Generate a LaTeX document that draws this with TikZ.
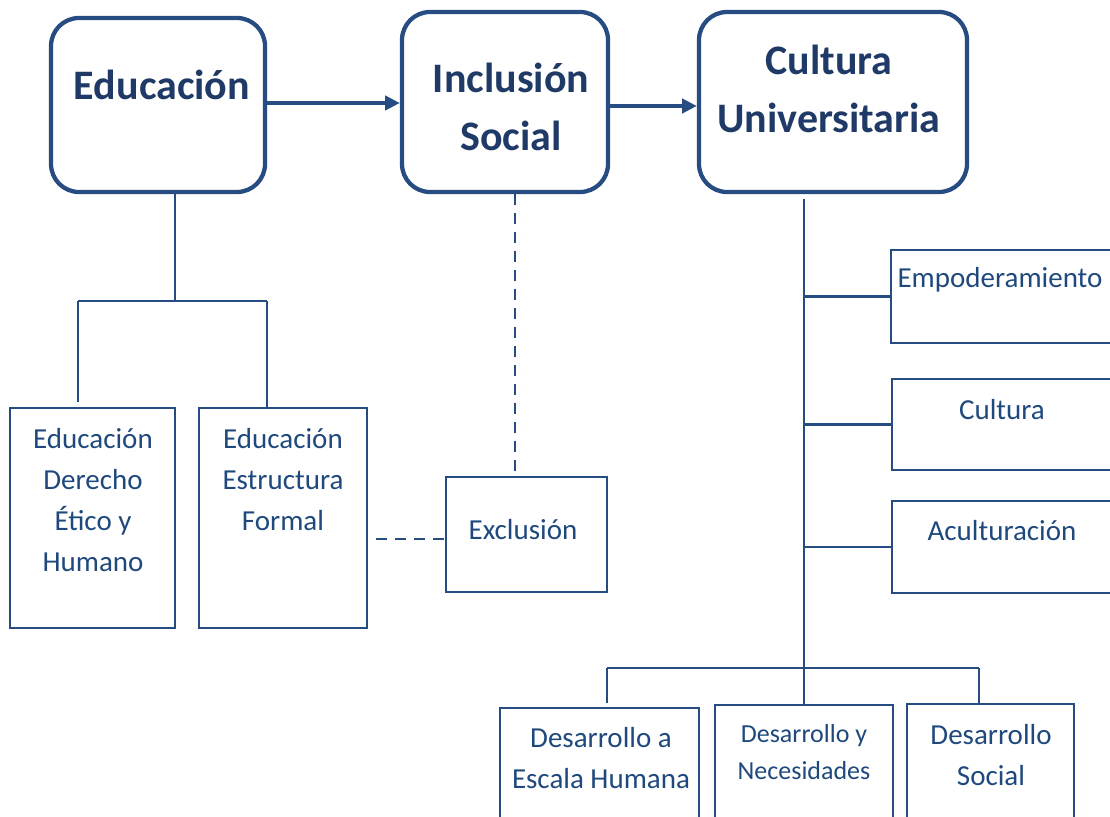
\documentclass[tikz,border=0pt]{standalone}
\usepackage{fontspec}
\setmainfont{Carlito}
\usetikzlibrary{arrows.meta}
\definecolor{navy}{RGB}{31,73,125}
\definecolor{navyd}{RGB}{31,58,102}
\definecolor{linec}{RGB}{38,76,130}
\begin{document}
\begin{tikzpicture}[x=0.75pt,y=-0.75pt,
 rbox/.style={draw=linec, line width=3.2pt, rounded corners=21pt, inner sep=0pt},
 sbox/.style={draw=linec, line width=2pt, inner sep=0pt},
 title/.style={text=navyd, font=\fontsize{31.5pt}{43.5pt}\selectfont\bfseries, align=center, inner sep=0pt},
 lbl/.style={text=navy, font=\fontsize{21.75pt}{30.75pt}\selectfont, align=center, inner sep=0pt},
 lbls/.style={text=navy, font=\fontsize{19.5pt}{27.75pt}\selectfont, align=center, inner sep=0pt},
 conn/.style={draw=linec, line width=2pt},
 dconn/.style={draw=linec, line width=2pt, dash pattern=on 8.25pt off 6pt},
 arr/.style={draw=linec, line width=3pt, -{Triangle[length=11pt,width=10.5pt]}}
]
\clip (0,0) rectangle (1110,817);
% main boxes
\node[rbox, minimum width=160.5pt, minimum height=130.5pt] (edu) at (158,105) {};
\node[title] (edut) at (162,85) {Educación};
\node[rbox, minimum width=154.5pt, minimum height=135pt] (incl) at (505,102) {};
\node[title] (inclt) at (511,107) {Inclusión\\Social};
\node[rbox, minimum width=201pt, minimum height=135pt] (cu) at (833,102) {};
\node[title] (cut) at (829,89) {Cultura\\Universitaria};
% arrows
\draw[arr] ([yshift=1.5pt]edu.east) -- ([yshift=1.5pt]edu.east -| incl.west);
\draw[arr] ([yshift=-3pt]incl.east) -- ([yshift=-3pt]incl.east -| cu.west);
% education subtree
\node[sbox, minimum width=123.75pt, minimum height=165pt] (e1) at (92.5,518) {};
\node[lbl] (e1t) at (93,500.5) {Educación\\Derecho\\Ético y\\Humano};
\node[sbox, minimum width=126pt, minimum height=165pt] (e2) at (283,518) {};
\node[lbl] (e2t) at (283,480) {Educación\\Estructura\\Formal};
\coordinate (ej) at (175,301);
\coordinate (ejl) at (78,301);
\coordinate (ejr) at (267,301);
\draw[conn] (edu.south -| ej) -- (ej);
\draw[conn] (ejl) -- (ejr);
\draw[conn] (ejl) -- ([yshift=3.75pt]e1.north -| ejl);
\draw[conn] (ejr) -- (e2.north -| ejr);
% exclusion
\node[sbox, minimum width=120.75pt, minimum height=86.25pt] (excl) at (526.5,534.5) {};
\node[lbl] (exclt) at (523,530) {Exclusión};
\coordinate (dx) at (515,300);
\draw[dconn] (incl.south -| dx) -- (excl.north -| dx);
\coordinate (dh) at (376,539);
\draw[dconn] (dh) -- (dh -| excl.west);
% cultura subtree
\node[sbox, minimum width=175.5pt, minimum height=69.75pt] (emp) at (1008,296.5) {};
\node[lbl] (empt) at (1000,280) {Empoderamiento};
\node[sbox, minimum width=174.75pt, minimum height=68.25pt] (cul) at (1008.5,424.5) {};
\node[lbl] (cult) at (1002,410) {Cultura};
\node[sbox, minimum width=174.75pt, minimum height=69pt] (acu) at (1008.5,547) {};
\node[lbl] (acut) at (1002,531) {Aculturación};
\coordinate (ct) at (804,668);
\coordinate (bl) at (607,668);
\coordinate (br) at (979,668);
\draw[conn] ([yshift=-3.5pt]cu.south -| ct) -- (ct);
\draw[conn] (emp.west -| ct) -- (emp.west);
\draw[conn] (cul.west -| ct) -- (cul.west);
\draw[conn] (acu.west -| ct) -- (acu.west);
% bottom
\node[sbox, minimum width=149.25pt, minimum height=99pt] (d1) at (599.5,774) {};
\node[lbl] (d1t) at (601,758) {Desarrollo a\\Escala Humana};
\node[sbox, minimum width=133.5pt, minimum height=101.25pt] (d2) at (804,772.5) {};
\node[lbls] (d2t) at (804,752.5) {Desarrollo y\\Necesidades};
\node[sbox, minimum width=125.25pt, minimum height=102pt] (d3) at (990.5,772) {};
\node[lbl] (d3t) at (991,755) {Desarrollo\\Social};
\draw[conn] (bl) -- (br);
\draw[conn] (bl) -- ([yshift=3pt]d1.north -| bl);
\draw[conn] (ct) -- (d2.north);
\draw[conn] (br) -- (d3.north -| br);
\end{tikzpicture}
\end{document}
